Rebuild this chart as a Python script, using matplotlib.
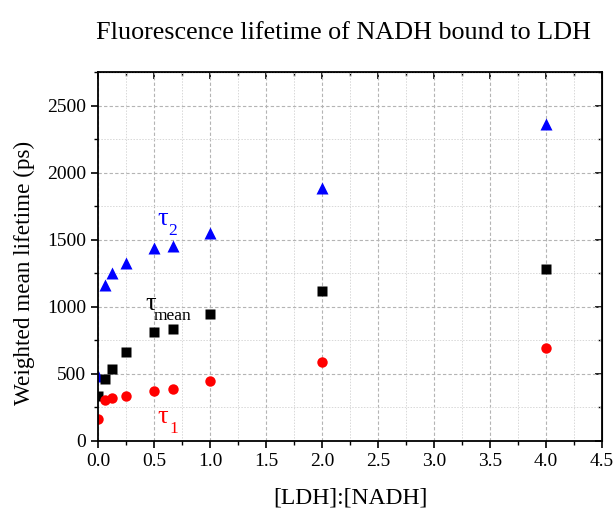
import matplotlib.pyplot as plt
from matplotlib.ticker import MultipleLocator

plt.rcParams['font.family'] = ['Liberation Serif', 'DejaVu Serif']

# [LDH]:[NADH] molar ratios
ratio = [0, 0.0625, 0.125, 0.25, 0.5, 0.667, 1, 2, 4]

# lifetimes in ps
tau1 = [164, 308, 318, 338, 375, 388, 448, 587, 692]
tau_mean = [338, 460, 537, 666, 813, 833, 950, 1119, 1281]
tau2 = [482, 1164, 1251, 1331, 1438, 1455, 1552, 1888, 2363]

fig = plt.figure(figsize=(6.15, 5.12), dpi=100)
ax = fig.add_axes([0.1593, 0.1387, 0.8196, 0.7197])

ax.plot(ratio, tau2, '^', color='#0000ff', ms=8, mec='none')
ax.plot(ratio, tau_mean, 's', color='black', ms=6.5, mec='none')
ax.plot(ratio, tau1, 'o', color='#ff0000', ms=7.5, mec='none')

ax.set_xlim(0, 4.5)
ax.set_ylim(0, 2750)
ax.xaxis.set_major_locator(MultipleLocator(0.5))
ax.xaxis.set_minor_locator(MultipleLocator(0.25))
ax.yaxis.set_major_locator(MultipleLocator(500))
ax.yaxis.set_minor_locator(MultipleLocator(250))
ax.xaxis.set_major_formatter(plt.FormatStrFormatter('%.1f'))

ax.grid(which='major', color='#b4b4b4', ls=(0, (3, 2)), lw=0.8)
ax.grid(which='minor', color='#d8d8d8', ls=(0, (1.5, 1.5)), lw=0.7)
ax.set_axisbelow(True)

ax.tick_params(which='major', direction='out', length=5, width=1.2, labelsize=14)
ax.tick_params(which='minor', direction='out', length=3, width=1.0)
for s in ax.spines.values():
    s.set_linewidth(1.3)

# inward ticks on the top and right frame
top = ax.secondary_xaxis('top')
top.xaxis.set_major_locator(MultipleLocator(0.5))
top.xaxis.set_minor_locator(MultipleLocator(0.25))
top.tick_params(which='major', direction='in', length=5, width=1.2, labeltop=False)
top.tick_params(which='minor', direction='in', length=3, width=1.0)
right = ax.secondary_yaxis('right')
right.yaxis.set_major_locator(MultipleLocator(500))
right.yaxis.set_minor_locator(MultipleLocator(250))
right.tick_params(which='major', direction='in', length=5, width=1.2, labelright=False)
right.tick_params(which='minor', direction='in', length=3, width=1.0)

ax.set_xlabel('[LDH]:[NADH]', fontsize=17, labelpad=13)
ax.set_ylabel('Weighted mean lifetime (ps)', fontsize=16.7)
ax.yaxis.set_label_coords(-0.125, 0.455)
fig.text(0.558, 0.936, 'Fluorescence lifetime of NADH bound to LDH',
         fontsize=18.8, ha='center', va='center')

# series labels: tau with a lowered subscript
labels = [
    ('2', '#0000ff', 0.527, 1612, 0.625, 1537),
    ('mean', 'black', 0.42, 978, 0.50, 903),
    ('1', '#ff0000', 0.527, 134, 0.634, 60),
]
for sub, col, tx, ty, sx, sy in labels:
    ax.text(tx, ty, '\u03c4', color=col, fontsize=19, va='baseline')
    ax.text(sx, sy, sub, color=col, fontsize=12.5, va='baseline')

fig.savefig('out.png')
